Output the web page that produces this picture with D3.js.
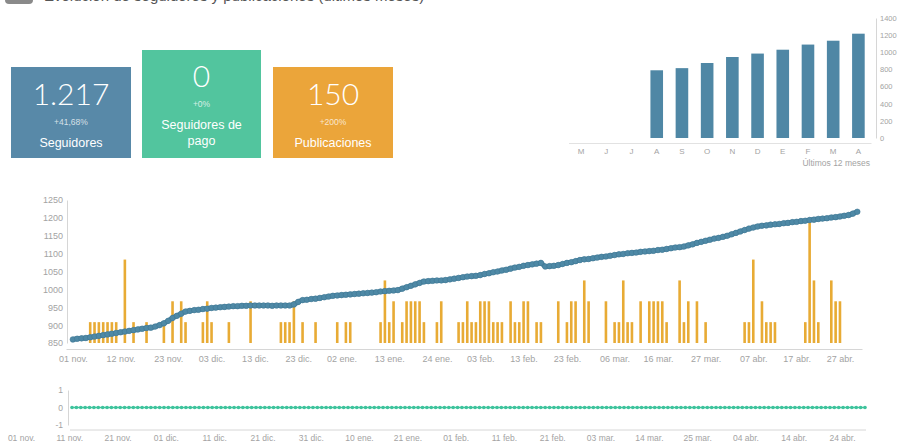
<!DOCTYPE html>
<html>
<head>
<meta charset="utf-8">
<script src="https://cdn.jsdelivr.net/npm/d3@7"></script>
<style>
body { margin: 0; background: #fff; }
svg text { font-family: "Liberation Sans", Arial, sans-serif; }
.thin { font-family: "Lato", "Liberation Sans", sans-serif; font-weight: 300; }
</style>
</head>
<body>
<svg id="chart" width="903" height="443"></svg>
<script>
// ---- data ----
const firstDay = "2017-11-01";
const lastDay = "2018-05-01";

// daily follower count, 01 nov -> 01 may
const followers = [
  860, 862, 863, 864, 866, 868, 870, 872, 874, 876, 878, 880, 882, 884, 886, 888, 890, 892, 893, 896,
  900, 905, 912, 920, 926, 932, 938, 940, 942, 943,
  945, 946, 948, 949, 950, 951, 952, 953, 953, 954, 954, 955, 955, 955, 955, 955, 954, 955, 955, 955,
  955, 958, 965, 970, 971, 973, 974, 976, 978, 980, 982,
  983, 984, 985, 986, 987, 988, 989, 990, 991, 992, 994, 995, 996, 997, 998, 1002, 1006, 1010, 1014, 1018,
  1022, 1023, 1024, 1025, 1025, 1026, 1028, 1030, 1032, 1034, 1036,
  1037, 1038, 1040, 1043, 1045, 1048, 1050, 1053, 1055, 1058, 1061, 1063, 1066, 1068, 1070, 1072, 1074, 1064,
  1065, 1066, 1068, 1071, 1074, 1076, 1079, 1082, 1084, 1085,
  1087, 1089, 1091, 1092, 1094, 1096, 1098, 1099, 1101, 1102, 1103, 1105, 1106, 1107, 1108, 1110, 1111, 1113,
  1115, 1117, 1118, 1120, 1123, 1126, 1130, 1133, 1136, 1139, 1142, 1144, 1147,
  1150, 1154, 1158, 1162, 1166, 1170, 1173, 1176, 1178, 1179, 1181, 1182, 1183, 1185, 1186, 1188, 1189, 1191,
  1192, 1194, 1195, 1197, 1198, 1199, 1201, 1202, 1204, 1206, 1208, 1212,
  1217
];

// daily paid followers
const paidFollowers = [
  0,0,0,0,0,0,0,0,0,0,0,0,0,0,0,0,0,0,0,0,0,0,0,0,0,0,0,0,0,0,
  0,0,0,0,0,0,0,0,0,0,0,0,0,0,0,0,0,0,0,0,0,0,0,0,0,0,0,0,0,0,0,
  0,0,0,0,0,0,0,0,0,0,0,0,0,0,0,0,0,0,0,0,0,0,0,0,0,0,0,0,0,0,0,
  0,0,0,0,0,0,0,0,0,0,0,0,0,0,0,0,0,0,0,0,0,0,0,0,0,0,0,0,
  0,0,0,0,0,0,0,0,0,0,0,0,0,0,0,0,0,0,0,0,0,0,0,0,0,0,0,0,0,0,0,
  0,0,0,0,0,0,0,0,0,0,0,0,0,0,0,0,0,0,0,0,0,0,0,0,0,0,0,0,0,0,
  0
];

// posts per day
const postDates = [
  "2017-11-05","2017-11-06","2017-11-07","2017-11-08","2017-11-09","2017-11-10","2017-11-11",
  "2017-11-13","2017-11-15","2017-11-18","2017-11-22","2017-11-24","2017-11-26","2017-11-27",
  "2017-12-01","2017-12-02","2017-12-03","2017-12-07","2017-12-12","2017-12-19","2017-12-20",
  "2017-12-21","2017-12-22","2017-12-24","2017-12-27",
  "2018-01-01","2018-01-03","2018-01-04","2018-01-11","2018-01-12","2018-01-13","2018-01-14",
  "2018-01-16","2018-01-17","2018-01-18","2018-01-19","2018-01-20","2018-01-21","2018-01-24",
  "2018-01-25","2018-01-29","2018-01-30","2018-01-31",
  "2018-02-01","2018-02-02","2018-02-03","2018-02-04","2018-02-05","2018-02-06","2018-02-07",
  "2018-02-08","2018-02-10","2018-02-11","2018-02-12","2018-02-13","2018-02-14","2018-02-16",
  "2018-02-17","2018-02-21","2018-02-23","2018-02-24","2018-02-25","2018-02-27","2018-02-28",
  "2018-03-04","2018-03-06","2018-03-07","2018-03-08","2018-03-09","2018-03-10","2018-03-12",
  "2018-03-14","2018-03-15","2018-03-16","2018-03-17","2018-03-18","2018-03-21","2018-03-22",
  "2018-03-23","2018-03-25","2018-03-27",
  "2018-04-05","2018-04-06","2018-04-07","2018-04-09","2018-04-10","2018-04-11","2018-04-12",
  "2018-04-19","2018-04-20","2018-04-21","2018-04-22","2018-04-25","2018-04-26","2018-04-27"
];
const postCounts = [
  1,1,1,1,1,1,1,
  4,1,1,1,2,2,1,
  1,2,1,1,2,1,1,
  1,2,1,1,
  1,1,1,1,3,1,2,
  1,2,2,2,2,1,1,
  2,1,1,2,
  1,1,2,2,2,1,1,
  1,2,1,1,2,2,1,
  1,2,1,2,2,3,2,
  2,1,1,3,1,1,2,
  2,2,2,2,1,3,1,
  2,2,1,
  1,1,4,2,1,1,1,
  1,6,3,1,3,2,2
];

// KPI boxes
const kpiValues = ["1.217", "0", "150"];
const kpiChanges = ["+41,68%", "+0%", "+200%"];
const kpiLabels = [["Seguidores"], ["Seguidores de", "pago"], ["Publicaciones"]];

// last 12 months
const monthLabels = ["M", "J", "J", "A", "S", "O", "N", "D", "E", "F", "M", "A"];
const monthFollowers = [0, 0, 0, 790, 815, 875, 945, 985, 1030, 1090, 1135, 1217];
const monthTicks = [0, 200, 400, 600, 800, 1000, 1200, 1400];

// axes
const mainYTicks = [850, 900, 950, 1000, 1050, 1100, 1150, 1200, 1250];
const mainXTicks = ["2017-11-01","2017-11-12","2017-11-23","2017-12-03","2017-12-13","2017-12-23",
  "2018-01-02","2018-01-13","2018-01-24","2018-02-03","2018-02-13","2018-02-23","2018-03-06",
  "2018-03-16","2018-03-27","2018-04-07","2018-04-17","2018-04-27"];
const paidYTicks = [-1, 0, 1];
const paidXLabels = ["01 nov.","11 nov.","21 nov.","01 dic.","11 dic.","21 dic.","31 dic.","10 ene.",
  "21 ene.","01 feb.","11 feb.","21 feb.","03 mar.","14 mar.","25 mar.","04 abr.","14 abr.","24 abr."];

// ---- drawing ----
const parse = d3.timeParse("%Y-%m-%d");
const es = d3.timeFormatLocale({
  dateTime: "%x, %X", date: "%d/%m/%Y", time: "%H:%M:%S", periods: ["AM", "PM"],
  days: ["domingo","lunes","martes","miércoles","jueves","viernes","sábado"],
  shortDays: ["dom","lun","mar","mié","jue","vie","sáb"],
  months: ["enero","febrero","marzo","abril","mayo","junio","julio","agosto","septiembre","octubre","noviembre","diciembre"],
  shortMonths: ["ene","feb","mar","abr","may","jun","jul","ago","sep","oct","nov","dic"]
});
const fmtDay = es.format("%d %b.");
const plain = d => String(d);

const days = d3.timeDay.range(parse(firstDay), d3.timeDay.offset(parse(lastDay), 1));
const series = days.map((d, i) => ({ date: d, value: followers[i], paid: paidFollowers[i] }));
const posts = postDates.map((d, i) => ({ date: parse(d), count: postCounts[i] }));

const svg = d3.select("#chart");
const grey = "#a3a3a3";
const lineGrey = "#d6d6d6";

// header, cut off at the top edge like the screenshot
svg.append("rect").attr("x", 5).attr("y", -10).attr("width", 28).attr("height", 14)
  .attr("rx", 4).attr("fill", "#8a8a8a");
svg.append("text").attr("x", 44).attr("y", 1).attr("font-size", 15).attr("fill", "#555")
  .text("Evolución de seguidores y publicaciones (últimos meses)");

// KPI boxes
const boxes = [
  { x: 11, y: 67, w: 120, h: 91, color: "#5889a8", top: 105 },
  { x: 142, y: 50, w: 119, h: 108, color: "#52c59e", top: 87 },
  { x: 273, y: 67, w: 120, h: 91, color: "#eba53a", top: 105 }
];
boxes.forEach((b, i) => {
  const g = svg.append("g");
  const cx = b.x + b.w / 2;
  g.append("rect").attr("x", b.x).attr("y", b.y).attr("width", b.w).attr("height", b.h).attr("fill", b.color);
  g.append("text").attr("class", "thin").attr("x", cx).attr("y", b.top).attr("text-anchor", "middle")
    .attr("font-size", 30).attr("fill", "#fff").text(kpiValues[i]);
  g.append("text").attr("x", cx).attr("y", b.top + 20).attr("text-anchor", "middle")
    .attr("font-size", 8.5).attr("fill", "rgba(255,255,255,0.75)").text(kpiChanges[i]);
  kpiLabels[i].forEach((t, j) => {
    g.append("text").attr("x", cx).attr("y", b.top + 42 + j * 16).attr("text-anchor", "middle")
      .attr("font-size", 12.5).attr("fill", "#fff").text(t);
  });
});

// small monthly bar chart
const xm = d3.scaleBand().domain(d3.range(12)).range([568.5, 871]).paddingInner(0.5).paddingOuter(0.25);
const ym = d3.scaleLinear().domain([0, 1400]).range([138, 18]);
const gm = svg.append("g");
gm.selectAll("rect").data(monthFollowers).join("rect")
  .attr("x", (d, i) => xm(i)).attr("width", xm.bandwidth())
  .attr("y", d => ym(d)).attr("height", d => ym(0) - ym(d))
  .attr("fill", "#4f87a5");
const mAxisY = gm.append("g").attr("transform", "translate(876,0)")
  .call(d3.axisRight(ym).tickValues(monthTicks).tickFormat(plain).tickSize(0).tickPadding(4));
const mAxisX = gm.append("g").attr("transform", "translate(0,143)")
  .call(d3.axisBottom(xm).tickFormat(i => monthLabels[i]).tickSize(0).tickPadding(5).tickSizeOuter(0));
mAxisY.selectAll("text").attr("font-size", 7.5).attr("fill", grey);
mAxisX.selectAll("text").attr("font-size", 8).attr("fill", grey);
mAxisY.select(".domain").attr("stroke", lineGrey);
mAxisX.select(".domain").attr("stroke", "#e2e2e2");
gm.append("text").attr("x", 870).attr("y", 166).attr("text-anchor", "end")
  .attr("font-size", 8.5).attr("fill", grey).text("Últimos 12 meses");

// main chart
const x = d3.scaleTime()
  .domain([d3.timeHour.offset(parse(firstDay), -38), d3.timeHour.offset(parse(lastDay), 26)])
  .range([66, 862]);
const y = d3.scaleLinear().domain([850, 1250]).range([343, 200]);
const yPosts = d3.scaleLinear().domain([0, 7]).range([343, 197]);

const gx = svg.append("g").attr("transform", "translate(0,349)")
  .call(d3.axisBottom(x).tickValues(mainXTicks.map(parse)).tickFormat(fmtDay).tickSize(0).tickPadding(7).tickSizeOuter(0));
gx.selectAll("text").attr("font-size", 9).attr("fill", grey);
gx.select(".domain").attr("stroke", lineGrey);

const gy = svg.append("g").attr("transform", "translate(67,0)")
  .call(d3.axisLeft(y).tickValues(mainYTicks).tickFormat(plain).tickSize(0).tickPadding(4).tickSizeOuter(0));
gy.selectAll("text").attr("font-size", 9).attr("fill", grey);
gy.select(".domain").attr("stroke", lineGrey);

svg.append("g").selectAll("rect").data(posts).join("rect")
  .attr("x", d => x(d.date) - 1.3).attr("width", 2.6)
  .attr("y", d => yPosts(d.count)).attr("height", d => yPosts(0) - yPosts(d.count))
  .attr("fill", "#e8ab35");

const line = d3.line().x(d => x(d.date)).y(d => y(d.value)).curve(d3.curveMonotoneX);
svg.append("path").datum(series).attr("d", line)
  .attr("fill", "none").attr("stroke", "#4b86a2").attr("stroke-width", 5).attr("stroke-linejoin", "round");
svg.append("g").selectAll("circle").data(series).join("circle")
  .attr("cx", d => x(d.date)).attr("cy", d => y(d.value)).attr("r", 2.8)
  .attr("fill", "#4e89a6").attr("stroke", "#3f7793").attr("stroke-width", 0.6);

// paid followers chart
const xp = d3.scaleTime().domain([parse(firstDay), parse(lastDay)]).range([72, 865]);
const yp = d3.scaleLinear().domain([-1, 1]).range([425, 390]);
const xpLabels = d3.scalePoint().domain(paidXLabels).range([21, 842]);

const gpy = svg.append("g").attr("transform", "translate(68,0)")
  .call(d3.axisLeft(yp).tickValues(paidYTicks).tickFormat(plain).tickSize(0).tickPadding(5).tickSizeOuter(0));
gpy.selectAll("text").attr("font-size", 8.5).attr("fill", grey);
gpy.select(".domain").attr("stroke", lineGrey);

svg.append("line").attr("x1", 70).attr("x2", 866).attr("y1", 430).attr("y2", 430).attr("stroke", lineGrey);
const gpx = svg.append("g").attr("transform", "translate(0,431)")
  .call(d3.axisBottom(xpLabels).tickSize(0).tickPadding(4));
gpx.select(".domain").remove();
gpx.selectAll("text").attr("font-size", 8.5).attr("fill", grey);

svg.append("path").datum(series)
  .attr("d", d3.line().x(d => xp(d.date)).y(d => yp(d.paid)))
  .attr("fill", "none").attr("stroke", "#3dc39c").attr("stroke-width", 1.5);
svg.append("g").selectAll("circle").data(series).join("circle")
  .attr("cx", d => xp(d.date)).attr("cy", d => yp(d.paid)).attr("r", 1.8)
  .attr("fill", "#3dc39c");
</script>
</body>
</html>
